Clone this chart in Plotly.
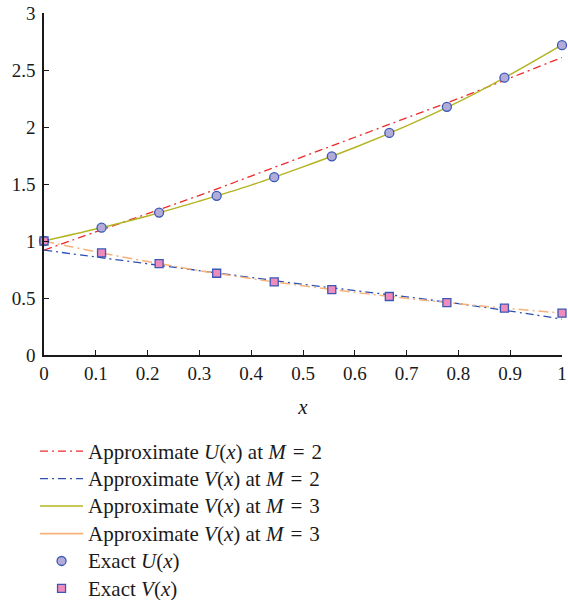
import plotly.graph_objects as go

# Data
x_nodes = [0, 1/9, 2/9, 3/9, 4/9, 5/9, 6/9, 7/9, 8/9, 1]
exact_u = [1.000, 1.117, 1.249, 1.396, 1.560, 1.743, 1.948, 2.177, 2.433, 2.718]
exact_v = [1.000, 0.895, 0.801, 0.717, 0.641, 0.574, 0.513, 0.459, 0.411, 0.368]

x_line = [0, 0.1, 0.2, 0.3, 0.4, 0.5, 0.6, 0.7, 0.8, 0.9, 1.0]
approx_u_m2 = [0.92, 1.08, 1.24, 1.40, 1.57, 1.74, 1.91, 2.08, 2.25, 2.43, 2.61]
approx_v_m2 = [0.92, 0.86, 0.80, 0.74, 0.68, 0.62, 0.565, 0.51, 0.45, 0.385, 0.315]
approx_u_m3 = [1.00, 1.105, 1.22, 1.35, 1.49, 1.65, 1.82, 2.01, 2.22, 2.46, 2.72]
approx_v_m3 = [1.00, 0.905, 0.82, 0.74, 0.67, 0.607, 0.55, 0.497, 0.45, 0.407, 0.368]

x_ticks = [0, 0.1, 0.2, 0.3, 0.4, 0.5, 0.6, 0.7, 0.8, 0.9, 1]
x_tick_labels = ["0", "0.1", "0.2", "0.3", "0.4", "0.5", "0.6", "0.7", "0.8", "0.9", "1"]
y_ticks = [0, 0.5, 1, 1.5, 2, 2.5, 3]
y_tick_labels = ["0", "0.5", "1", "1.5", "2", "2.5", "3"]

SP = "&#8196;"
names = [
    "Approximate <i>U</i>(<i>x</i>) at <i>M</i>" + SP + "=" + SP + "2",
    "Approximate <i>V</i>(<i>x</i>) at <i>M</i>" + SP + "=" + SP + "2",
    "Approximate <i>V</i>(<i>x</i>) at <i>M</i>" + SP + "=" + SP + "3",
    "Approximate <i>V</i>(<i>x</i>) at <i>M</i>" + SP + "=" + SP + "3",
    "Exact <i>U</i>(<i>x</i>)",
    "Exact <i>V</i>(<i>x</i>)",
]

RED = "#ee2a2a"
BLUE = "#2d4fb0"
OLIVE = "#b4b423"
ORANGE = "#f6b27a"
EDGE = "#3a58b5"
LAV = "#b3acd9"
PINK = "#f08cbc"
DASHDOT = "8px,4px,2px,4px"
FONT = "Liberation Serif"
INK = "#1a1a1a"


def big(s):
    return '<span style="font-size:21px">' + s + '</span>'


fig = go.Figure()

fig.add_trace(go.Scatter(x=x_line, y=approx_u_m2, mode="lines", name=big(names[0]),
                         line=dict(color=RED, width=1.3, dash=DASHDOT, shape="spline")))
fig.add_trace(go.Scatter(x=x_line, y=approx_v_m2, mode="lines", name=big(names[1]),
                         line=dict(color=BLUE, width=1.3, dash=DASHDOT, shape="spline")))
fig.add_trace(go.Scatter(x=x_line, y=approx_u_m3, mode="lines", name=big(names[2]),
                         line=dict(color=OLIVE, width=1.5, shape="spline")))
# orange drawn dash-dot in the plot, solid in the legend
fig.add_trace(go.Scatter(x=x_line, y=approx_v_m3, mode="lines", showlegend=False,
                         line=dict(color=ORANGE, width=1.5, dash="10px,4px,2px,4px", shape="spline")))
fig.add_trace(go.Scatter(x=[None], y=[None], mode="lines", name=big(names[3]),
                         line=dict(color=ORANGE, width=1.8)))
fig.add_trace(go.Scatter(x=x_nodes, y=exact_u, mode="markers", name=big(names[4]),
                         marker=dict(symbol="circle", size=9, color=LAV,
                                     line=dict(color=EDGE, width=1.3)),
                         cliponaxis=False))
fig.add_trace(go.Scatter(x=x_nodes, y=exact_v, mode="markers", name=big(names[5]),
                         marker=dict(symbol="square", size=8, color=PINK,
                                     line=dict(color=EDGE, width=1.3)),
                         cliponaxis=False))

axis_common = dict(showgrid=False, zeroline=False, showline=True, linecolor=INK,
                   linewidth=1.5, ticks="inside", ticklen=5, tickwidth=1.2,
                   tickcolor=INK, tickfont=dict(family=FONT, size=19, color=INK),
                   automargin=False, ticklabeloverflow="allow")

fig.update_xaxes(range=[0, 1], tickvals=x_ticks, ticktext=x_tick_labels,
                 title=dict(text="<i>x</i>", font=dict(family=FONT, size=21, color=INK),
                            standoff=17),
                 **axis_common)
fig.update_yaxes(range=[0, 3], tickvals=y_ticks, ticktext=y_tick_labels,
                 ticklabelstandoff=3, **axis_common)

fig.update_layout(
    width=568, height=600,
    margin=dict(l=44, r=6, t=13, b=245, autoexpand=False),
    plot_bgcolor="white", paper_bgcolor="white",
    font=dict(family=FONT, color=INK),
    showlegend=True,
    legend=dict(x=-0.0173, y=-0.2266, xanchor="left", yanchor="top",
                font=dict(family=FONT, size=18.8, color=INK),
                itemwidth=43, tracegroupgap=0, bgcolor="rgba(0,0,0,0)"),
)

fig.write_html("out.html", config={"displayModeBar": False},
               post_script="document.body.style.margin='0';")
